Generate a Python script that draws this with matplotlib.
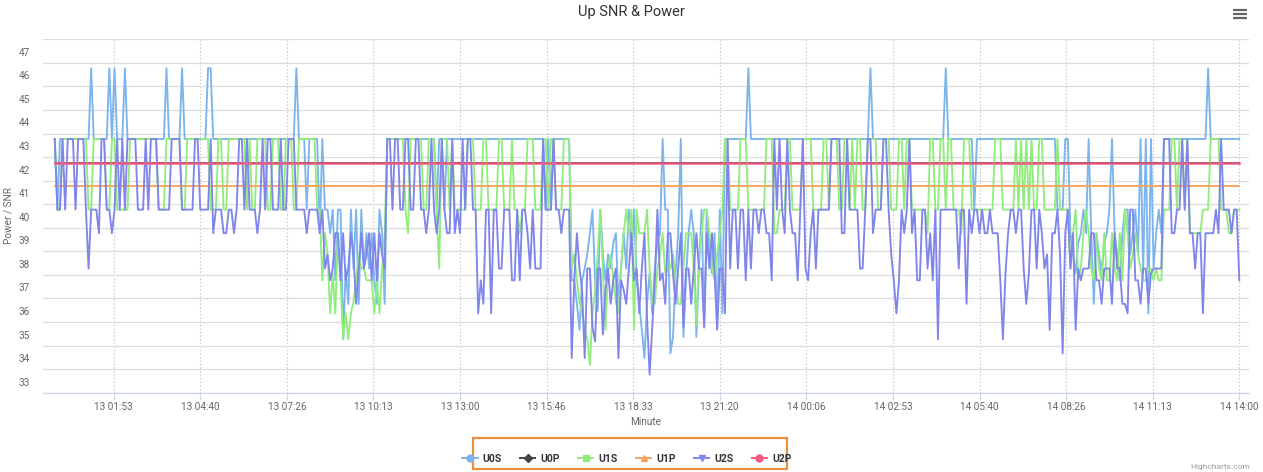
import matplotlib
matplotlib.use('Agg')
import matplotlib.pyplot as plt
import matplotlib.dates as mdates
from matplotlib.lines import Line2D
from matplotlib.patches import Rectangle
import numpy as np
import pandas as pd

plt.rcParams['font.family'] = ['Roboto', 'DejaVu Sans']

# ---------------- data ----------------
start_time = '2019-03-13 00:00'
step = '5min'
tick_start = '2019-03-13 01:53:20'
tick_step = '10000s'
n_ticks = 14

u0s = [
43.3, 40.3, 43.3, 43.3, 43.3, 43.3, 43.3, 43.3, 43.3, 43.3,
43.3, 43.3, 43.3, 43.3, 46.3, 43.3, 43.3, 43.3, 43.3, 43.3,
43.3, 46.3, 43.3, 46.3, 43.3, 43.3, 43.3, 46.3, 43.3, 43.3,
43.3, 43.3, 43.3, 43.3, 43.3, 43.3, 43.3, 43.3, 43.3, 43.3,
43.3, 43.3, 43.3, 46.3, 43.3, 43.3, 43.3, 43.3, 43.3, 46.3,
43.3, 43.3, 43.3, 43.3, 43.3, 43.3, 43.3, 43.3, 43.3, 46.3,
46.3, 43.3, 43.3, 43.3, 43.3, 43.3, 43.3, 43.3, 43.3, 43.3,
43.3, 43.3, 43.3, 43.3, 43.3, 43.3, 43.3, 43.3, 43.3, 43.3,
43.3, 43.3, 43.3, 43.3, 43.3, 43.3, 43.3, 43.3, 43.3, 43.3,
43.3, 43.3, 43.3, 46.3, 43.3, 43.3, 43.3, 40.3, 43.3, 43.3,
43.3, 43.3, 39.3, 43.3, 40.3, 40.3, 39.3, 40.3, 37.3, 40.3,
40.3, 34.8, 37.8, 36.3, 40.3, 37.8, 40.3, 36.3, 40.3, 37.8,
39.3, 37.8, 39.3, 37.3, 36.3, 40.3, 39.3, 36.3, 43.3, 43.3,
43.3, 43.3, 43.3, 43.3, 43.3, 43.3, 43.3, 43.3, 43.3, 43.3,
43.3, 43.3, 43.3, 43.3, 43.3, 43.3, 43.3, 40.3, 43.3, 43.3,
40.3, 43.3, 43.3, 43.3, 43.3, 43.3, 43.3, 43.3, 43.3, 43.3,
43.3, 43.3, 43.3, 43.3, 43.3, 43.3, 43.3, 43.3, 43.3, 43.3,
43.3, 43.3, 43.3, 43.3, 43.3, 43.3, 43.3, 43.3, 43.3, 43.3,
43.3, 43.3, 43.3, 43.3, 43.3, 43.3, 43.3, 43.3, 43.3, 40.3,
43.3, 40.3, 43.3, 43.3, 43.3, 43.3, 43.3, 43.3, 43.3, 37.3,
37.3, 36.3, 35.2, 37.3, 37.8, 38.4, 39.3, 40.3, 37.3, 36.0,
40.3, 38.4, 37.3, 38.4, 37.8, 38.9, 39.3, 36.3, 37.8, 39.3,
37.8, 40.3, 38.4, 40.3, 37.3, 36.3, 35.2, 34.0, 36.3, 37.6,
35.9, 37.8, 38.9, 39.3, 43.3, 40.3, 40.3, 34.2, 34.9, 37.6,
39.3, 43.3, 34.9, 37.3, 39.3, 40.3, 39.3, 34.9, 37.8, 40.3,
35.3, 40.3, 38.4, 37.6, 39.3, 35.3, 40.3, 35.9, 43.3, 43.3,
43.3, 43.3, 43.3, 43.3, 43.3, 43.3, 43.3, 46.3, 43.3, 43.3,
43.3, 43.3, 43.3, 43.3, 43.3, 43.3, 43.3, 43.3, 43.3, 43.3,
43.3, 43.3, 43.3, 43.3, 43.3, 43.3, 43.3, 43.3, 43.3, 43.3,
43.3, 43.3, 43.3, 43.3, 43.3, 43.3, 43.3, 43.3, 43.3, 43.3,
43.3, 43.3, 43.3, 43.3, 43.3, 43.3, 43.3, 43.3, 43.3, 43.3,
43.3, 43.3, 43.3, 43.3, 46.3, 43.3, 43.3, 43.3, 43.3, 43.3,
43.3, 43.3, 43.3, 43.3, 43.3, 43.3, 43.3, 43.3, 43.3, 43.3,
43.3, 43.3, 43.3, 43.3, 43.3, 43.3, 43.3, 43.3, 43.3, 43.3,
43.3, 43.3, 43.3, 46.3, 43.3, 43.3, 43.3, 43.3, 43.3, 43.3,
43.3, 43.3, 43.3, 43.3, 40.3, 43.3, 43.3, 43.3, 43.3, 43.3,
43.3, 43.3, 43.3, 43.3, 43.3, 43.3, 43.3, 43.3, 43.3, 43.3,
43.3, 43.3, 43.3, 43.3, 43.3, 43.3, 43.3, 43.3, 43.3, 43.3,
43.3, 43.3, 43.3, 43.3, 43.3, 43.3, 40.3, 40.3, 40.3, 43.3,
43.3, 39.3, 38.4, 37.6, 38.9, 39.3, 40.3, 39.3, 43.3, 39.3,
36.3, 39.3, 38.4, 37.6, 38.9, 39.3, 40.3, 43.3, 39.3, 38.4,
37.3, 39.3, 40.3, 40.3, 38.4, 39.3, 40.3, 38.4, 43.3, 37.6,
43.3, 35.9, 43.3, 37.8, 39.3, 40.3, 39.3, 43.3, 43.3, 43.3,
43.3, 43.3, 43.3, 43.3, 43.3, 43.3, 43.3, 43.3, 43.3, 43.3,
43.3, 43.3, 43.3, 43.3, 46.3, 43.3, 43.3, 43.3, 43.3, 43.3,
43.3, 43.3, 43.3, 43.3, 43.3, 43.3, 43.3,
]

u1s = [
43.3, 40.3, 40.3, 43.3, 43.3, 43.3, 43.3, 43.3, 43.3, 43.3,
43.3, 43.3, 43.3, 40.3, 40.3, 43.3, 43.3, 43.3, 43.3, 43.3,
40.3, 40.3, 43.3, 43.3, 40.3, 40.3, 40.3, 40.3, 40.3, 43.3,
43.3, 43.3, 43.3, 43.3, 43.3, 43.3, 43.3, 43.3, 43.3, 43.3,
40.3, 40.3, 40.3, 43.3, 43.3, 43.3, 43.3, 43.3, 43.3, 40.3,
40.3, 43.3, 43.3, 43.3, 43.3, 43.3, 43.3, 43.3, 43.3, 43.3,
40.3, 40.3, 40.3, 43.3, 43.3, 40.3, 40.3, 43.3, 43.3, 43.3,
43.3, 43.3, 43.3, 43.3, 40.3, 43.3, 40.3, 40.3, 43.3, 43.3,
43.3, 43.3, 40.3, 40.3, 43.3, 43.3, 43.3, 40.3, 40.3, 43.3,
43.3, 43.3, 40.3, 40.3, 43.3, 43.3, 43.3, 43.3, 43.3, 43.3,
43.3, 40.3, 40.3, 37.3, 39.3, 38.4, 35.9, 37.6, 35.9, 39.3,
37.3, 34.8, 35.9, 34.8, 35.9, 36.4, 37.3, 38.4, 37.8, 37.8,
37.3, 37.3, 37.3, 35.9, 37.3, 35.9, 37.8, 39.3, 43.3, 43.3,
43.3, 43.3, 43.3, 43.3, 43.3, 40.3, 39.3, 43.3, 43.3, 43.3,
43.3, 43.3, 40.3, 40.3, 43.3, 43.3, 43.3, 40.3, 37.8, 43.3,
43.3, 43.3, 40.3, 43.3, 40.3, 40.3, 40.3, 40.3, 40.3, 43.3,
43.3, 43.3, 40.3, 40.3, 40.3, 43.3, 43.3, 40.3, 40.3, 40.3,
40.3, 43.3, 43.3, 40.3, 40.3, 40.3, 43.3, 40.3, 40.3, 39.3,
40.3, 40.3, 43.3, 43.3, 43.3, 40.3, 40.3, 40.3, 43.3, 43.3,
40.3, 43.3, 43.3, 40.3, 40.3, 40.3, 43.3, 43.3, 43.3, 37.8,
38.4, 37.3, 36.4, 35.9, 35.3, 34.8, 33.7, 35.9, 36.9, 38.4,
40.3, 37.8, 35.2, 37.8, 38.4, 37.3, 36.4, 35.9, 37.8, 39.3,
40.3, 39.3, 40.3, 35.2, 40.3, 39.3, 39.3, 39.3, 40.3, 37.8,
36.3, 36.3, 37.8, 38.4, 39.3, 37.6, 37.8, 37.8, 38.4, 37.3,
36.3, 36.3, 37.8, 39.3, 39.3, 39.3, 37.8, 35.4, 38.4, 39.3,
40.3, 40.3, 39.3, 37.8, 37.3, 38.4, 39.3, 40.3, 43.3, 43.3,
40.3, 40.3, 40.3, 40.3, 43.3, 43.3, 43.3, 40.3, 40.3, 40.3,
40.3, 40.3, 40.3, 40.3, 43.3, 43.3, 43.3, 39.3, 39.3, 40.3,
40.3, 40.3, 43.3, 43.3, 40.3, 40.3, 40.3, 40.3, 43.3, 43.3,
43.3, 43.3, 40.3, 40.3, 40.3, 40.3, 43.3, 43.3, 40.3, 43.3,
43.3, 43.3, 40.3, 40.3, 43.3, 43.3, 40.3, 43.3, 40.3, 43.3,
43.3, 40.3, 40.3, 43.3, 43.3, 43.3, 43.3, 40.3, 40.3, 43.3,
43.3, 43.3, 40.3, 40.3, 40.3, 43.3, 43.3, 40.3, 43.3, 43.3,
40.3, 40.3, 40.3, 40.3, 40.3, 40.3, 39.3, 43.3, 43.3, 40.3,
40.3, 43.3, 43.3, 40.3, 43.3, 43.3, 40.3, 40.3, 40.3, 39.3,
43.3, 43.3, 43.3, 40.3, 40.3, 40.3, 40.3, 40.3, 40.3, 40.3,
40.3, 40.3, 43.3, 43.3, 43.3, 40.3, 40.3, 40.3, 40.3, 40.3,
43.3, 40.3, 43.3, 40.3, 43.3, 40.3, 43.3, 40.3, 40.3, 43.3,
43.3, 40.3, 40.3, 40.3, 40.3, 40.3, 43.3, 40.3, 40.3, 40.3,
40.3, 37.8, 39.3, 40.3, 37.3, 37.8, 39.3, 40.3, 39.3, 37.8,
37.3, 39.3, 37.8, 37.3, 39.3, 37.3, 37.3, 39.3, 37.8, 37.3,
39.3, 37.3, 40.3, 39.3, 37.8, 38.4, 39.3, 38.4, 37.8, 37.3,
37.3, 37.8, 37.8, 37.3, 37.8, 37.3, 37.3, 40.3, 40.3, 40.3,
43.3, 43.3, 40.3, 43.3, 43.3, 40.3, 43.3, 39.3, 39.3, 39.3,
39.3, 39.3, 40.3, 40.3, 40.3, 43.3, 43.3, 43.3, 43.3, 40.3,
40.3, 40.3, 39.3, 39.3, 40.3, 40.3, 40.3,
]

u2s = [
43.3, 40.3, 40.3, 43.3, 40.3, 43.3, 43.3, 43.3, 40.3, 43.3,
43.3, 43.3, 40.3, 37.8, 40.3, 40.3, 40.3, 39.3, 43.3, 43.3,
40.3, 40.3, 39.3, 40.3, 43.3, 40.3, 43.3, 40.3, 43.3, 43.3,
43.3, 43.3, 40.3, 40.3, 40.3, 43.3, 40.3, 43.3, 43.3, 43.3,
40.3, 40.3, 40.3, 40.3, 40.3, 43.3, 43.3, 43.3, 43.3, 40.3,
40.3, 40.3, 40.3, 40.3, 43.3, 43.3, 40.3, 40.3, 40.3, 40.3,
43.3, 39.3, 40.3, 40.3, 40.3, 39.3, 39.3, 40.3, 40.3, 39.3,
40.3, 43.3, 43.3, 40.3, 43.3, 40.3, 40.3, 40.3, 39.3, 40.3,
43.3, 40.3, 43.3, 43.3, 40.3, 40.3, 40.3, 43.3, 40.3, 40.3,
43.3, 43.3, 43.3, 40.3, 40.3, 40.3, 40.3, 39.3, 40.3, 40.3,
40.3, 40.3, 39.3, 40.3, 37.8, 38.4, 37.3, 37.8, 39.3, 39.3,
37.3, 39.3, 37.3, 37.8, 39.3, 38.4, 36.3, 37.8, 39.3, 37.8,
38.4, 39.3, 37.3, 39.3, 37.3, 39.3, 38.4, 37.8, 43.3, 43.3,
40.3, 43.3, 43.3, 40.3, 40.3, 43.3, 43.3, 40.3, 40.3, 43.3,
43.3, 40.3, 40.3, 39.3, 40.3, 43.3, 40.3, 39.3, 40.3, 43.3,
40.3, 39.3, 39.3, 43.3, 39.3, 40.3, 39.3, 43.3, 40.3, 43.3,
43.3, 40.3, 40.3, 35.9, 37.3, 36.3, 40.3, 40.3, 35.9, 40.3,
40.3, 37.8, 37.8, 40.3, 40.3, 40.3, 37.3, 37.3, 40.3, 37.3,
40.3, 40.3, 39.3, 37.8, 40.3, 37.8, 37.8, 37.8, 43.3, 40.3,
40.3, 40.3, 43.3, 40.3, 40.3, 39.3, 40.3, 40.3, 40.3, 34.0,
37.3, 39.3, 37.8, 36.9, 34.0, 37.8, 37.8, 35.3, 34.7, 37.8,
37.8, 35.0, 36.9, 37.8, 36.3, 37.3, 37.8, 34.0, 37.3, 36.9,
36.3, 37.8, 39.3, 37.3, 37.8, 35.9, 37.8, 39.3, 35.7, 33.3,
35.3, 37.3, 40.3, 37.3, 37.6, 36.3, 39.3, 39.3, 37.6, 36.3,
37.8, 39.3, 35.3, 37.8, 37.8, 36.3, 37.8, 39.3, 37.8, 37.8,
35.3, 39.3, 37.8, 39.3, 37.6, 35.2, 37.8, 37.8, 35.9, 43.3,
37.8, 40.3, 40.3, 37.8, 40.3, 40.3, 37.3, 40.3, 37.8, 40.3,
40.3, 39.3, 40.3, 40.3, 39.3, 39.3, 37.3, 43.3, 40.3, 43.3,
40.3, 39.3, 43.3, 40.3, 39.3, 39.3, 37.3, 40.3, 43.3, 37.8,
37.3, 39.3, 40.3, 37.8, 40.3, 40.3, 40.3, 40.3, 40.3, 43.3,
43.3, 43.3, 43.3, 39.3, 39.3, 43.3, 40.3, 40.3, 40.3, 40.3,
37.8, 37.8, 40.3, 43.3, 43.3, 39.3, 40.3, 40.3, 40.3, 43.3,
43.3, 40.3, 38.4, 37.3, 35.9, 37.3, 40.3, 39.3, 40.3, 43.3,
39.3, 40.3, 37.3, 37.3, 40.3, 40.3, 37.8, 39.3, 37.3, 40.3,
34.8, 40.3, 40.3, 40.3, 40.3, 40.3, 40.3, 40.3, 37.8, 40.3,
40.3, 36.3, 40.3, 39.3, 40.3, 40.3, 39.3, 40.3, 39.3, 39.3,
40.3, 39.3, 39.3, 39.3, 37.3, 34.8, 37.6, 39.3, 40.3, 40.3,
39.3, 40.3, 40.3, 37.8, 36.3, 37.6, 40.3, 40.3, 37.8, 40.3,
39.3, 37.8, 38.4, 35.2, 39.3, 39.3, 40.3, 38.4, 34.2, 39.3,
40.3, 37.8, 39.3, 35.2, 37.8, 37.3, 37.8, 37.8, 37.8, 39.3,
39.3, 37.3, 37.3, 36.3, 37.8, 37.8, 37.8, 36.3, 39.3, 37.8,
37.8, 36.3, 36.3, 35.9, 40.3, 40.3, 37.3, 37.3, 36.3, 37.8,
37.8, 36.3, 37.6, 37.8, 37.8, 37.8, 37.8, 43.3, 43.3, 43.3,
39.3, 39.3, 40.3, 40.3, 43.3, 40.3, 43.3, 39.3, 39.3, 37.8,
39.3, 39.3, 35.9, 39.3, 39.3, 39.3, 39.3, 40.3, 39.3, 43.3,
40.3, 40.3, 40.3, 39.3, 40.3, 40.3, 37.3,
]

u0p_level = 42.29
u1p_level = 41.30
u2p_level = 42.29

series_names = ['U0S', 'U0P', 'U1S', 'U1P', 'U2S', 'U2P']
series_colors = ['#7cb5ec', '#434348', '#90ed7d', '#f7a35c', '#8085e9', '#f15c80']
series_markers = ['o', 'D', 's', '^', 'v', 'o']

y_labels = list(range(33, 48))
y_grid_offset = 0.53
y_bottom = 32.53
y_top = 47.53

# ---------------- figure ----------------
W, H = 1263, 472
fig = plt.figure(figsize=(W / 100, H / 100), dpi=100)
fig.patch.set_facecolor('white')

L, R, T, B = 43.3, 1249.0, 39.3, 392.7
ax = fig.add_axes([L / W, 1 - B / H, (R - L) / W, (B - T) / H])
ax.set_facecolor('white')

def times_for(vals):
    return pd.date_range(start_time, periods=len(vals), freq=step)

t0 = times_for(u0s)
span = [t0[0], t0[-1]]

lw = 1.35
ax.plot(times_for(u0s), u0s, color=series_colors[0], lw=lw, zorder=3)
ax.plot(span, [u0p_level, u0p_level], color=series_colors[1], lw=1.4, zorder=3)
ax.plot(times_for(u1s), u1s, color=series_colors[2], lw=lw, zorder=3)
ax.plot(span, [u1p_level, u1p_level], color=series_colors[3], lw=lw, zorder=3)
ax.plot(times_for(u2s), u2s, color=series_colors[4], lw=lw, zorder=3)
ax.plot(span, [u2p_level, u2p_level], color=series_colors[5], lw=1.95, zorder=3, alpha=0.85)

# x axis
ticks = pd.date_range(tick_start, periods=n_ticks, freq=tick_step)
x_left = t0[0] - pd.Timedelta(minutes=22.1)
x_right = t0[-1] + pd.Timedelta(minutes=18.7)
ax.set_xlim(x_left, x_right)
ax.set_xticks(ticks)
ax.xaxis.set_major_formatter(mdates.DateFormatter('%d %H:%M'))
ax.tick_params(axis='x', length=5, width=0.8, color='#ccd6eb', pad=1.5,
               labelsize=7.2, labelcolor='#666666')
for t in ticks:
    ax.axvline(t, color='#b8b8b8', lw=0.8, ls=(0, (1, 2.2)), zorder=1)

# y axis
ax.set_ylim(y_bottom, y_top)
ax.set_yticks(y_labels)
ax.set_yticklabels([str(v) for v in y_labels])
ax.tick_params(axis='y', length=0, pad=9.5, labelsize=7.2, labelcolor='#666666')
ax.set_yticks([v + y_grid_offset for v in range(32, 48)], minor=True)
ax.tick_params(axis='y', which='minor', length=0)
ax.grid(True, which='minor', axis='y', color='#dcdcdc', lw=0.9, zorder=0)
ax.grid(False, which='major')

for s in ['top', 'right', 'left']:
    ax.spines[s].set_visible(False)
ax.spines['bottom'].set_color('#ccd6eb')
ax.spines['bottom'].set_linewidth(0.9)

# titles
fig.text(631.5 / W, 1 - 12 / H, 'Up SNR & Power', ha='center', va='center',
         fontsize=10.5, color='#333333')
fig.text(9 / W, 1 - 216 / H, 'Power / SNR', rotation=90, ha='center', va='center',
         fontsize=7.2, color='#666666')
fig.text(646 / W, 1 - 422 / H, 'Minute', ha='center', va='center',
         fontsize=7.2, color='#666666')
fig.text(1250 / W, 1 - 467 / H, 'Highcharts.com', ha='right', va='center',
         fontsize=6, color='#999999')

# hamburger menu
for yy in (10, 14, 18):
    fig.add_artist(Line2D([1233 / W, 1247 / W], [1 - yy / H, 1 - yy / H],
                          transform=fig.transFigure, color='#666666', lw=1.6,
                          solid_capstyle='butt'))

# legend
handles = [Line2D([], [], color=c, marker=m, markersize=5 if m != 'D' else 4,
                  lw=1.4) for c, m in zip(series_colors, series_markers)]
leg = fig.legend(handles, series_names, loc='center',
                 bbox_to_anchor=(627 / W, 1 - 458.5 / H), ncol=6, frameon=False,
                 handlelength=1.45, handletextpad=0.5, columnspacing=1.75,
                 prop={'family': 'Roboto', 'weight': 'bold', 'size': 7.5})
for txt in leg.get_texts():
    txt.set_color('#333333')
fig.add_artist(Rectangle((473.3 / W, 1 - 469.3 / H), (787.3 - 473.3) / W,
                         (469.3 - 437.7) / H, transform=fig.transFigure,
                         fill=False, edgecolor='#e8903f', lw=1.6))

fig.savefig('out.png', dpi=100, facecolor='white')
